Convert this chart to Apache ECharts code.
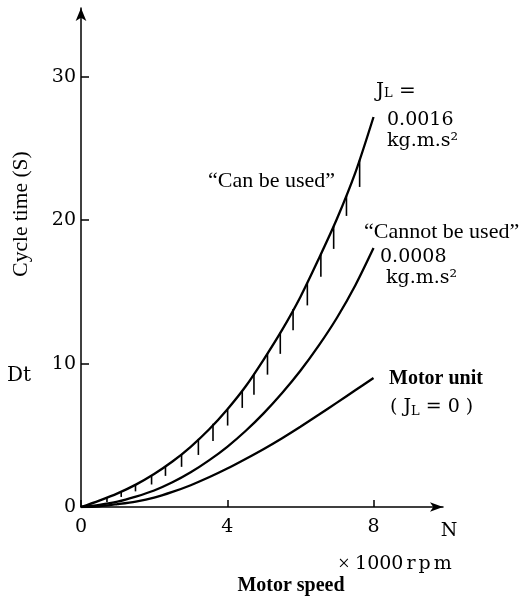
<!DOCTYPE html>
<html>
<head>
<meta charset="utf-8">
<script src="https://cdn.jsdelivr.net/npm/echarts@6/dist/echarts.min.js"></script>
<style>html,body{margin:0;padding:0;background:#fff;}#c{width:522px;height:601px;}</style>
</head>
<body>
<div id="c"></div>
<script>
// Motor speed N (x 1000 rpm)
var speeds = [0, 0.5, 1, 1.5, 2, 2.5, 3, 3.5, 4, 4.5, 5, 5.5, 6, 6.5, 7, 7.5, 8];
// Cycle time Dt (s) for each load inertia
var jl0016 = [0, 0.45, 0.95, 1.56, 2.3, 3.17, 4.2, 5.4, 6.8, 8.4, 10.3, 12.35, 14.65, 17.3, 20.1, 23.3, 27.2];
var jl0008 = [0, 0.15, 0.37, 0.72, 1.15, 1.72, 2.42, 3.25, 4.2, 5.3, 6.55, 7.95, 9.5, 11.25, 13.2, 15.45, 18.06];
var motorUnit = [0, 0.05, 0.2, 0.38, 0.65, 1.05, 1.52, 2.07, 2.68, 3.35, 4.05, 4.8, 5.6, 6.43, 7.28, 8.14, 9.0];
// hatch marks under the 0.0016 curve ("can be used" side)
var hatchX = [0.71, 1.10, 1.49, 1.93, 2.31, 2.75, 3.21, 3.61, 4.01, 4.41, 4.73, 5.10, 5.45, 5.80, 6.19, 6.56, 6.91, 7.26, 7.62];
var hatchTop = [0.62, 1.05, 1.58, 2.2, 2.8, 3.7, 4.75, 5.8, 6.8, 8.1, 9.3, 10.7, 12.15, 13.8, 15.6, 17.6, 19.6, 21.7, 24.2];
var hatchBottom = [0.34, 0.70, 1.09, 1.57, 2.17, 2.8, 3.63, 4.61, 5.68, 6.91, 7.83, 9.23, 10.68, 12.33, 14.06, 16.06, 18.0, 20.3, 22.32];
// tick labels
var xTicks = [0, 4, 8];
var yTicks = [0, 10, 20, 30];

var SERIF = '"Liberation Serif", "DejaVu Serif", serif';
var WIDE = '"DejaVu Serif", "Liberation Serif", serif';
function pairs(xs, ys) { return xs.map(function (x, i) { return [x, ys[i]]; }); }
var hatchData = hatchX.map(function (x, i) { return [x, hatchTop[i], hatchBottom[i]]; });

function txt(x, y, text, opts) {
  opts = opts || {};
  var style = {
    text: text,
    fontSize: opts.size || 20,
    fontFamily: opts.family || SERIF,
    fontWeight: opts.bold ? 'bold' : 'normal',
    fill: '#000',
    align: opts.align || 'left',
    verticalAlign: 'middle'
  };
  if (opts.rich) style.rich = opts.rich;
  return { type: 'text', x: x, y: y, rotation: opts.rotation || 0, style: style, silent: true };
}

var lineStyleBase = { color: '#000', width: 2.3 };
var chart = echarts.init(document.getElementById('c'));
chart.setOption({
  backgroundColor: '#fff',
  animation: false,
  grid: { left: 81, right: 79, top: 8, bottom: 94, containLabel: false },
  xAxis: {
    type: 'value', min: 0, max: 9.9,
    axisLine: { show: true, symbol: ['none', 'arrow'], symbolSize: [7, 13], lineStyle: { color: '#000', width: 1.5 } },
    axisTick: { show: true, inside: true, length: 7, customValues: xTicks, lineStyle: { color: '#000', width: 1.5 } },
    axisLabel: { customValues: xTicks, color: '#000', fontSize: 19, fontFamily: WIDE, margin: 11,
      formatter: function (v) { return xTicks.indexOf(v) >= 0 ? String(v) : ''; } },
    splitLine: { show: false }
  },
  yAxis: {
    type: 'value', min: 0, max: 34.8,
    axisLine: { show: true, symbol: ['none', 'arrow'], symbolSize: [8, 13], lineStyle: { color: '#000', width: 1.5 } },
    axisTick: { show: true, inside: true, length: 8, customValues: yTicks, lineStyle: { color: '#000', width: 1.5 } },
    axisLabel: { customValues: yTicks, color: '#000', fontSize: 19, fontFamily: WIDE, margin: 5,
      formatter: function (v) { return yTicks.indexOf(v) >= 0 ? String(v) : ''; } },
    splitLine: { show: false }
  },
  series: [
    { type: 'line', data: pairs(speeds, jl0016), smooth: 0.3, showSymbol: false, lineStyle: lineStyleBase },
    { type: 'line', data: pairs(speeds, jl0008), smooth: 0.3, showSymbol: false, lineStyle: lineStyleBase },
    { type: 'line', data: pairs(speeds, motorUnit), smooth: 0.3, showSymbol: false, lineStyle: lineStyleBase },
    {
      type: 'custom', data: hatchData,
      renderItem: function (params, api) {
        var p1 = api.coord([api.value(0), api.value(1)]);
        var p2 = api.coord([api.value(0), api.value(2)]);
        return { type: 'line', shape: { x1: p1[0], y1: p1[1], x2: p2[0], y2: p2[1] },
          style: { stroke: '#000', lineWidth: 1.6 } };
      }
    }
  ],
  graphic: [
    txt(21, 214, 'Cycle time (S)', { rotation: Math.PI / 2, align: 'center', size: 21.5 }),
    txt(7, 376, 'Dt', { family: WIDE, size: 20 }),
    txt(449, 531, 'N', { align: 'center', family: WIDE, size: 19 }),
    txt(338, 564, '{x|× }{n|1000}{u|r}{u|p}{u|m}', { family: WIDE, size: 19,
      rich: { x: { fontSize: 21, fontFamily: SERIF }, n: { fontSize: 19, fontFamily: WIDE }, u: { fontSize: 19, fontFamily: WIDE, padding: [0, 0, 0, 3] } } }),
    txt(291, 586, 'Motor speed', { align: 'center', bold: true, size: 20 }),
    txt(376, 92, '{a|J}{s|L}{a| =}', { rich: { a: { fontSize: 20, fontFamily: WIDE }, s: { fontSize: 13, fontFamily: WIDE, padding: [4, 0, 0, 0] } } }),
    txt(387, 120, '0.0016', { family: WIDE, size: 19 }),
    txt(387, 141, 'kg.m.s²', { family: WIDE, size: 19 }),
    txt(208, 181, '“Can be used”', { size: 22 }),
    txt(364, 232, '“Cannot be used”', { size: 22 }),
    txt(380, 257, '0.0008', { family: WIDE, size: 19 }),
    txt(386, 278, 'kg.m.s²', { family: WIDE, size: 19 }),
    txt(389, 379, 'Motor unit', { bold: true }),
    txt(390, 407, '{a|( J}{s|L}{a| = 0 )}', { rich: { a: { fontSize: 19, fontFamily: WIDE }, s: { fontSize: 13, fontFamily: WIDE, padding: [10, 0, 0, 0] } } })
  ]
});
</script>
</body>
</html>
